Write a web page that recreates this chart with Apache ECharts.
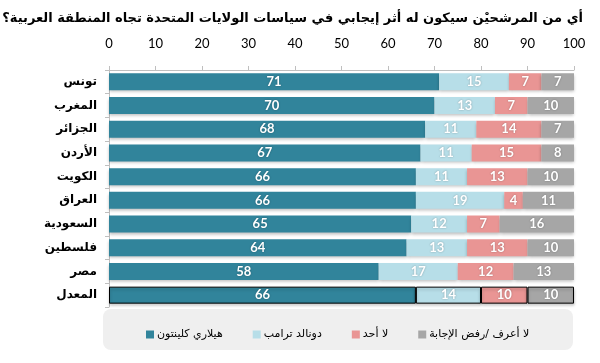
<!DOCTYPE html>
<html><head><meta charset="utf-8">
<script src="https://cdn.jsdelivr.net/npm/echarts@6/dist/echarts.min.js"></script>
<style>html,body{margin:0;padding:0;background:#fff}#c{width:600px;height:363px}</style>
</head><body><div id="c"></div>
<script>
const titleText = 'أي من المرشحيْن سيكون له أثر إيجابي في سياسات الولايات المتحدة تجاه المنطقة العربية؟';
const categories = ['تونس','المغرب','الجزائر','الأردن','الكويت','العراق','السعودية','فلسطين','مصر','المعدل'];
const seriesNames = ['هيلاري كلينتون','دونالد ترامب','لا أحد','لا أعرف /رفض الإجابة'];
const clinton = [71,70,68,67,66,66,65,64,58,66];
const trump   = [15,13,11,11,11,19,12,13,17,14];
const noOne   = [7,7,14,15,13,4,7,13,12,10];
const dontKnow= [7,10,7,8,10,11,16,10,13,10];
const xTicks = [0,10,20,30,40,50,60,70,80,90,100];

const colors = ['#31849B','#B7DEE8','#E99594','#A6A6A6'];
const allData = [clinton, trump, noOne, dontKnow];
const lastIdx = categories.length - 1;

const chart = echarts.init(document.getElementById('c'), null, {renderer:'canvas'});

chart.setOption({
  animation:false,
  title:{text:titleText,right:12,top:7,textStyle:{fontFamily:'DejaVu Sans',fontWeight:'bold',fontSize:13,color:'#000'}},
  graphic:[{type:'rect',left:103,top:309,shape:{width:470,height:41,r:8},style:{fill:'#efefef'},z:-1}],
  legend:{data:seriesNames,left:141,top:324,itemWidth:8,itemHeight:8,icon:'rect',itemGap:30,
    textStyle:{fontFamily:'DejaVu Sans',fontSize:11,color:'#000',padding:[0,0,0,-2]}},
  grid:{left:109,right:26,top:70,bottom:56},
  xAxis:{type:'value',position:'top',min:0,max:100,interval:10,
    axisLine:{show:true,lineStyle:{color:'#bfbfbf'}},
    axisTick:{show:true,length:4,lineStyle:{color:'#bfbfbf'}},
    splitLine:{show:false},
    axisLabel:{formatter:v=>xTicks.includes(v)?String(v):'',fontFamily:'Lato',fontSize:13,color:'#000',margin:20}},
  yAxis:{type:'category',data:categories,inverse:true,
    axisLine:{show:true,lineStyle:{color:'#bfbfbf'}},
    axisTick:{show:true,length:4,lineStyle:{color:'#bfbfbf'}},
    axisLabel:{fontFamily:'DejaVu Sans',fontWeight:'bold',fontSize:12,color:'#000',margin:12}},
  series: allData.map((d,i)=>({
    name:seriesNames[i],type:'bar',stack:'all',barWidth:17,
    itemStyle:{color:colors[i],shadowColor:'rgba(0,0,0,0.25)',shadowBlur:3,shadowOffsetY:2},
    label:{show:true,position:'inside',color:'#fff',fontFamily:'Lato',fontWeight:'bold',fontSize:13,
      textShadowColor:'rgba(0,0,0,0.3)',textShadowBlur:2},
    data:d.map((v,j)=> j===lastIdx ? {value:v,itemStyle:{borderColor:'#000',borderWidth:1}} : v)
  }))
});
</script></body></html>
